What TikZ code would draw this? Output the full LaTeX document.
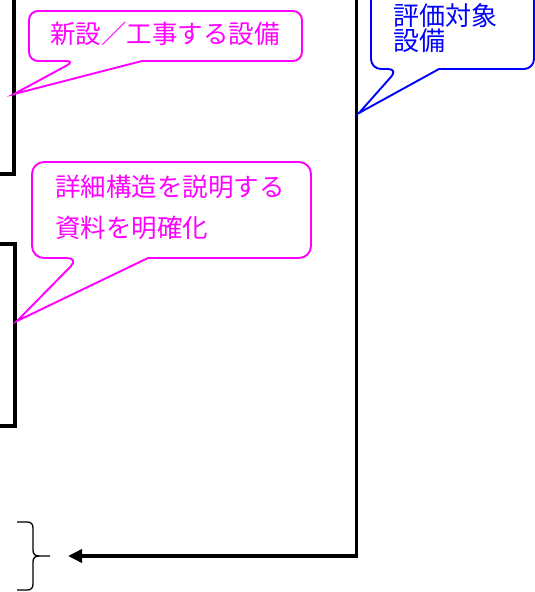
\documentclass[tikz,border=0pt]{standalone}
\usepackage{fontspec}
\setmainfont{Noto Sans CJK JP}
\usetikzlibrary{arrows.meta}
\definecolor{mag}{HTML}{FF00FF}
\definecolor{blu}{HTML}{0000FF}
\begin{document}
\begin{tikzpicture}[x=1pt,y=-1pt,
  bracket/.style={line width=3.8pt, draw=black},
  flowline/.style={line width=3.8pt, draw=black, -{Triangle[length=14pt,width=13pt]}},
  bracestyle/.style={line width=1.3pt, draw=black},
  callm/.style={draw=mag, line width=1.9pt, fill=white},
  callb/.style={draw=blu, line width=1.9pt, fill=white},
  txtm/.style={text=mag, inner sep=0pt, font=\fontsize{25.5}{41}\selectfont},
  txtb/.style={text=blu, inner sep=0pt, align=left, font=\fontsize{26}{25}\selectfont}]
\useasboundingbox (0,0) rectangle (535,592);
\clip (0,0) rectangle (535,592);
% brackets
\draw[bracket] (14,-5) -- (14,174) -- (-5,174);
\draw[bracket] (-5,244) -- (15,244) -- (15,426) -- (-5,426);
% main flow line
\coordinate (top) at (356.5,-5);
\coordinate (corner) at (356.5,556);
\coordinate (tip) at (68,556);
\draw[flowline] (top) -- (corner) -- (tip);
% brace
\draw[bracestyle] (17,522) -- (27,522) .. controls (31,522) and (33,524) .. (33,528) -- (33,550)
  .. controls (33,554) and (35,556) .. (39,556) -- (50,556);
\draw[bracestyle] (39,556) .. controls (35,556) and (33,558) .. (33,562) -- (33,584)
  .. controls (33,588) and (31,590) .. (27,590) -- (17,590);
% callout 1
\draw[callm] (75,61) -- (14,94) -- (142,61) [rounded corners=9pt] -- (302,61) -- (302,11) -- (29,11) -- (29,61) -- cycle;
\node[txtm, anchor=base] (t1) at (165,43) {新設／工事する設備};
% callout 2
\draw[callm] (79,258) -- (17,321) -- (148,258) [rounded corners=12pt] -- (311,258) -- (311,162) -- (32,162) -- (32,258) -- cycle;
\node[txtm, anchor=base west] (t2a) at (55,196) {詳細構造を説明する};
\node[txtm, anchor=base west] (t2b) at (55,237) {資料を明確化};
% callout 3
\draw[callb] (398,69) -- (359,113) -- (439,69) [rounded corners=10pt] -- (534,69) -- (534,-20) -- (371,-20) -- (371,69) -- cycle;
\node[txtb, anchor=base west] (t3) at (393,50) {評価対象\\設備};
\end{tikzpicture}
\end{document}
